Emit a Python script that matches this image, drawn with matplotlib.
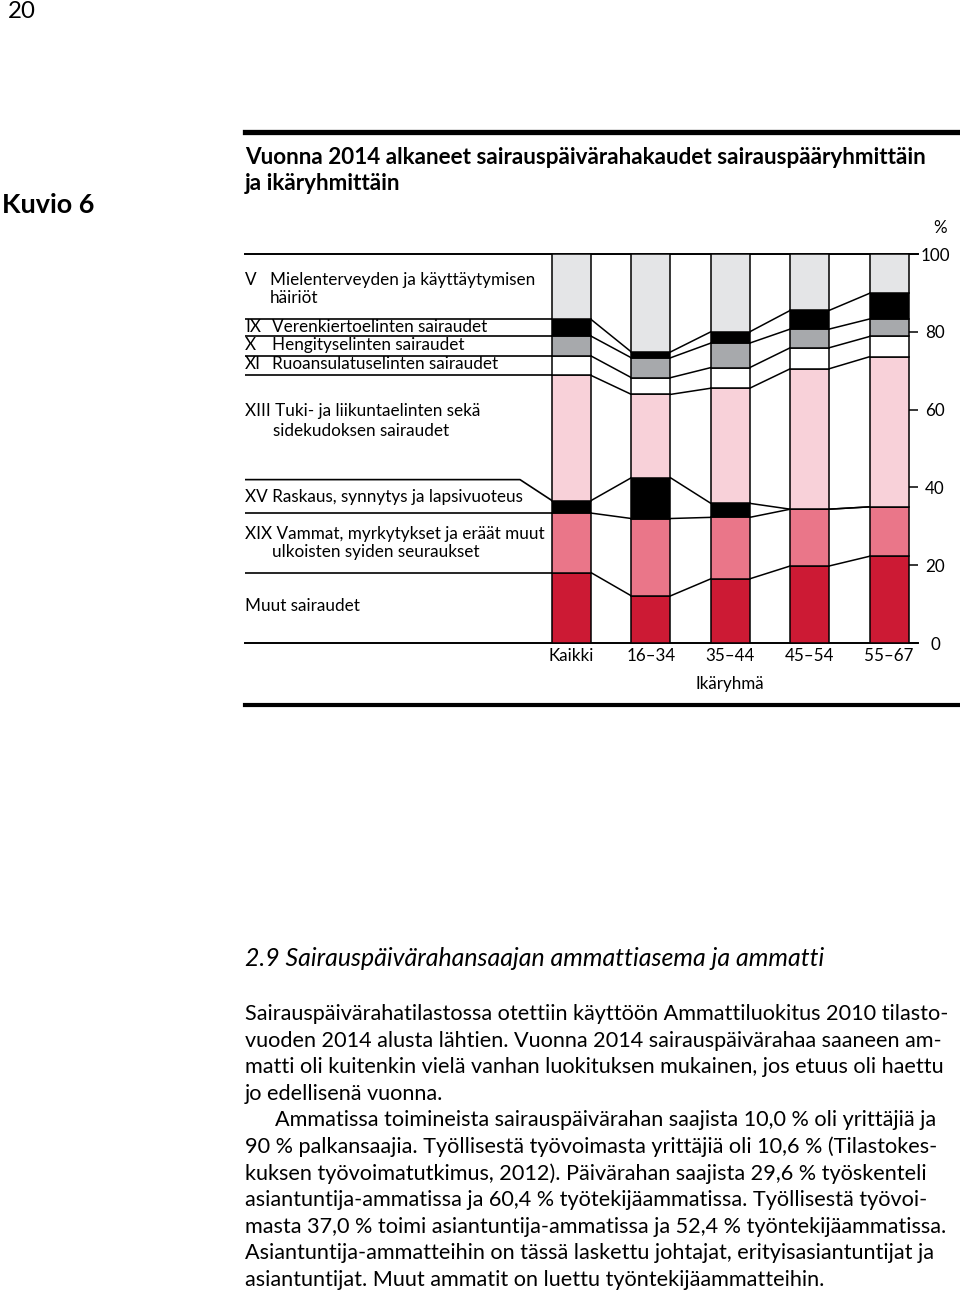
import numpy as np
import matplotlib
matplotlib.use("Agg")
import matplotlib.pyplot as plt
import matplotlib.transforms as mtransforms

# age groups and disease group shares (%), bottom -> top
groups = ["Kaikki", "16\u201334", "35\u201344", "45\u201354", "55\u201367"]
muut = [18.1, 12.1, 16.5, 19.8, 22.3]
xix = [15.3, 19.9, 15.8, 14.6, 12.7]
xv = [3.2, 10.5, 3.6, 0.0, 0.0]
xiii = [32.2, 21.4, 29.6, 36.1, 38.6]
xi = [5.0, 4.3, 5.3, 5.4, 5.2]
x_resp = [5.1, 5.1, 6.3, 4.8, 4.5]
ix = [4.3, 1.5, 2.9, 4.8, 6.6]
v = [16.8, 25.2, 20.0, 14.5, 10.1]

series = [muut, xix, xv, xiii, xi, x_resp, ix, v]
colors = ["#cc1a34", "#ea7689", "#000000", "#f8d1d9", "#ffffff", "#a7a9ac", "#000000", "#e4e5e7"]

yticks = [0, 20, 40, 60, 80, 100]

plt.rcParams['font.family'] = ['Lato', 'DejaVu Sans']

W, H = 960, 1296
fig = plt.figure(figsize=(W / 100, H / 100), dpi=100)
renderer = fig.canvas.get_renderer()


def fx(px):
    return px / W


def fy(py):
    return 1 - py / H


def pt(px):
    return px * 0.72


def fit_size(s, target_px, **kw):
    # font size (pt) that makes text s about target_px wide
    t = fig.text(0, 0, s, fontsize=10, **kw)
    wpx = t.get_window_extent(renderer).width
    t.remove()
    return 10 * target_px / wpx


# chart axes: y 0..100 maps to pixel rows 643..254, bars spaced 79.4 px
step = 79.4
c0 = 571.5
left_px, right_px = 245, 918
ax = fig.add_axes([fx(left_px), fy(643), (right_px - left_px) / W, (643 - 254) / H])
ax.set_xlim((left_px - c0) / step, (right_px - c0) / step)
ax.set_ylim(0, 100)

w = 0.49
xs = np.arange(len(groups))
data = np.array(series)
cum = np.vstack([np.zeros(len(groups)), np.cumsum(data, axis=0)])

for k, vals in enumerate(data):
    ax.bar(xs, vals, bottom=cum[k], width=w, color=colors[k],
           edgecolor="black", linewidth=1.1, zorder=3)

# connector lines between neighbouring bars
for k in range(1, len(series)):
    for i in range(len(groups) - 1):
        ax.plot([xs[i] + w / 2, xs[i + 1] - w / 2], [cum[k][i], cum[k][i + 1]],
                color="black", lw=1.1, zorder=2)

# legend guide lines from the left
xl = ax.get_xlim()[0]
for k in [1, 2, 4, 5, 6, 7]:
    ax.plot([xl, -w / 2], [cum[k][0], cum[k][0]], color="black", lw=1.2, zorder=2)
# XV: bent line
xv_level = 42.0
ax.plot([xl, (520 - c0) / step, -w / 2], [xv_level, xv_level, cum[3][0]],
        color="black", lw=1.2, zorder=2)

for s in ["left", "right"]:
    ax.spines[s].set_visible(False)
for s in ["top", "bottom"]:
    ax.spines[s].set_linewidth(1.4)
ax.set_facecolor("none")

ax.set_xticks(xs)
ax.set_xticklabels(groups, fontsize=pt(17))
ax.tick_params(axis="x", length=0, pad=pt(5))

ax.yaxis.tick_right()
ax.set_yticks(yticks)
ax.set_yticklabels([str(t) for t in yticks], fontsize=pt(17))
ax.tick_params(axis="y", direction="in", length=pt(10), width=1.1, pad=pt(17))
for lab in ax.get_yticklabels():
    lab.set_ha("center")

trans = mtransforms.blended_transform_factory(ax.transData, ax.transAxes)
ax.text(2, -0.105, "Ik\u00e4ryhm\u00e4", transform=trans, ha="center", va="center",
        fontsize=pt(17))

# legend labels
lab_fs = fit_size("Mielenterveyden ja k\u00e4ytt\u00e4ytymisen", 264)
legend_items = [
    (245, 280, "V"), (270, 280, "Mielenterveyden ja k\u00e4ytt\u00e4ytymisen"),
    (270, 298, "h\u00e4iri\u00f6t"),
    (245, 327, "IX"), (272, 327, "Verenkiertoelinten sairaudet"),
    (245, 345, "X"), (272, 345, "Hengityselinten sairaudet"),
    (245, 364, "XI"), (272, 364, "Ruoansulatuselinten sairaudet"),
    (245, 411, "XIII Tuki- ja liikuntaelinten sek\u00e4"),
    (273, 431, "sidekudoksen sairaudet"),
    (245, 497, "XV Raskaus, synnytys ja lapsivuoteus"),
    (245, 534, "XIX Vammat, myrkytykset ja er\u00e4\u00e4t muut"),
    (272, 552, "ulkoisten syiden seuraukset"),
    (245, 606, "Muut sairaudet"),
]
for px, py, s in legend_items:
    fig.text(fx(px), fy(py), s, ha="left", va="center", fontsize=lab_fs)

fig.text(fx(940), fy(228), "%", ha="center", va="center", fontsize=pt(17))

# header
fig.text(fx(8), fy(12), "20", ha="left", va="center", fontsize=pt(24))
fig.text(fx(2), fy(205), "Kuvio 6", ha="left", va="center", fontsize=pt(27),
         fontweight="bold")
title1 = "Vuonna 2014 alkaneet sairausp\u00e4iv\u00e4rahakaudet sairausp\u00e4\u00e4ryhmitt\u00e4in"
title_fs = fit_size(title1, 683, fontweight="bold")
fig.text(fx(245), fy(158), title1, ha="left", va="center", fontsize=title_fs,
         fontweight="bold")
fig.text(fx(245), fy(183), "ja ik\u00e4ryhmitt\u00e4in", ha="left", va="center",
         fontsize=title_fs, fontweight="bold")

fig.add_artist(plt.Line2D([fx(245), 1], [fy(132), fy(132)], color="black", lw=3.8))
fig.add_artist(plt.Line2D([fx(245), 1], [fy(705), fy(705)], color="black", lw=3.0))

# section text below
heading = "2.9 Sairausp\u00e4iv\u00e4rahansaajan ammattiasema ja ammatti"
head_fs = fit_size(heading, 577, fontstyle="italic")
fig.text(fx(245), fy(958), heading, ha="left", va="center", fontsize=head_fs,
         fontstyle="italic")

body = [
    (245, "Sairausp\u00e4iv\u00e4rahatilastossa otettiin k\u00e4ytt\u00f6\u00f6n Ammattiluokitus 2010 tilasto-"),
    (245, "vuoden 2014 alusta l\u00e4htien. Vuonna 2014 sairausp\u00e4iv\u00e4rahaa saaneen am-"),
    (245, "matti oli kuitenkin viel\u00e4 vanhan luokituksen mukainen, jos etuus oli haettu"),
    (245, "jo edellisen\u00e4 vuonna."),
    (275, "Ammatissa toimineista sairausp\u00e4iv\u00e4rahan saajista 10,0 % oli yritt\u00e4ji\u00e4 ja"),
    (245, "90 % palkansaajia. Ty\u00f6llisest\u00e4 ty\u00f6voimasta yritt\u00e4ji\u00e4 oli 10,6 % (Tilastokes-"),
    (245, "kuksen ty\u00f6voimatutkimus, 2012). P\u00e4iv\u00e4rahan saajista 29,6 % ty\u00f6skenteli"),
    (245, "asiantuntija-ammatissa ja 60,4 % ty\u00f6tekij\u00e4ammatissa. Ty\u00f6llisest\u00e4 ty\u00f6voi-"),
    (245, "masta 37,0 % toimi asiantuntija-ammatissa ja 52,4 % ty\u00f6ntekij\u00e4ammatissa."),
    (245, "Asiantuntija-ammatteihin on t\u00e4ss\u00e4 laskettu johtajat, erityisasiantuntijat ja"),
    (245, "asiantuntijat. Muut ammatit on luettu ty\u00f6ntekij\u00e4ammatteihin."),
]
body_fs = fit_size(body[0][1], 705)
y0 = 1014
for n, (px, s) in enumerate(body):
    fig.text(fx(px), fy(y0 + n * 26.6), s, ha="left", va="center", fontsize=body_fs)

fig.savefig("out.png", dpi=100, facecolor="white")
